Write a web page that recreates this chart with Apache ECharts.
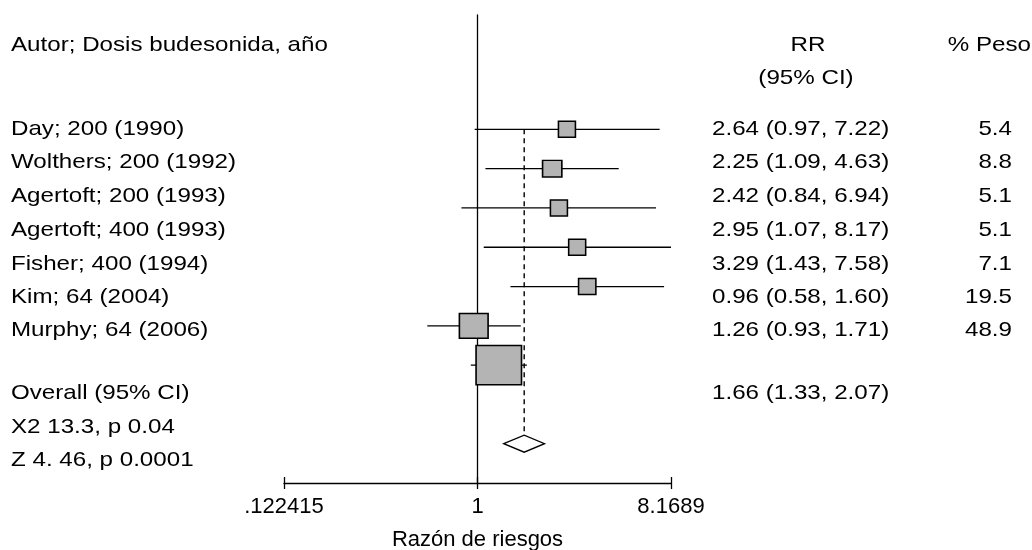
<!DOCTYPE html>
<html>
<head>
<meta charset="utf-8">
<script src="https://cdn.jsdelivr.net/npm/echarts@6/dist/echarts.min.js"></script>
<style>
html,body{margin:0;padding:0;background:#fff;}
#chart{width:1032px;height:550px;}
</style>
</head>
<body>
<div id="chart"></div>
<script>
// ---------------- data ----------------
const studies = ['Day; 200 (1990)', 'Wolthers; 200 (1992)', 'Agertoft; 200 (1993)', 'Agertoft; 400 (1993)', 'Fisher; 400 (1994)', 'Kim; 64 (2004)', 'Murphy; 64 (2006)'];
const rr = [2.64, 2.25, 2.42, 2.95, 3.29, 0.96, 1.26];
const ciLow = [0.97, 1.09, 0.84, 1.07, 1.43, 0.58, 0.93];
const ciHigh = [7.22, 4.63, 6.94, 8.17, 7.58, 1.60, 1.71];
const weights = [5.4, 8.8, 5.1, 5.1, 7.1, 19.5, 48.9];
const overallLabel = 'Overall (95% CI)';
const overallRR = 1.66;
const overallLow = 1.33;
const overallHigh = 2.07;
const statsLines = ['X2 13.3, p 0.04', 'Z 4. 46, p 0.0001'];
const tickValues = [0.122415, 1, 8.1689];
const tickLabels = ['.122415', '1', '8.1689'];
const axisTitle = 'Razón de riesgos';
const headerStudy = 'Autor; Dosis budesonida, año';
const headerRR = ['RR', '(95% CI)'];
const headerWeight = '% Peso';

// ---------------- layout ----------------
const FONT = '"Liberation Sans", Arial, sans-serif';
const FS = 21;
const SX = 1.15;
const AXFS = 22;
const OVERALL_ROW = 8;
const L = Math.log(tickValues[2]);
const rowTextY = [129, 162, 196, 230, 264, 297, 330.5];
const overallTextY = 393;
const statsTextY = [427, 460];

function txt(text, x, y, align) {
  return {
    type: 'text', x: x, y: y, scaleX: SX, z: 10, silent: true,
    style: {
      text: text, font: FS + 'px ' + FONT, fill: '#000',
      align: align, verticalAlign: 'middle',
      textAlign: align, textVerticalAlign: 'middle'
    }
  };
}
const graphics = [];
graphics.push(txt(headerStudy, 11, 45, 'left'));
graphics.push(txt(headerRR[0], 808, 45, 'center'));
graphics.push(txt(headerRR[1], 806, 78, 'center'));
graphics.push(txt(headerWeight, 1031, 45, 'right'));
studies.forEach(function (s, i) {
  graphics.push(txt(s, 11, rowTextY[i], 'left'));
  graphics.push(txt(rr[i].toFixed(2) + ' (' + ciLow[i].toFixed(2) + ', ' + ciHigh[i].toFixed(2) + ')', 712, rowTextY[i], 'left'));
  graphics.push(txt(weights[i].toFixed(1), 1012, rowTextY[i], 'right'));
});
graphics.push(txt(overallLabel, 11, overallTextY, 'left'));
graphics.push(txt(overallRR.toFixed(2) + ' (' + overallLow.toFixed(2) + ', ' + overallHigh.toFixed(2) + ')', 712, overallTextY, 'left'));
statsLines.forEach(function (s, i) { graphics.push(txt(s, 11, statsTextY[i], 'left')); });

const ciData = studies.map(function (s, i) { return [Math.log(ciLow[i]), Math.log(ciHigh[i]), i]; });
const boxData = studies.map(function (s, i) { return [Math.log(rr[i]), i, weights[i]]; });

const chart = echarts.init(document.getElementById('chart'), null, { renderer: 'canvas' });
chart.setOption({
  animation: false,
  backgroundColor: '#fff',
  grid: { left: 284, width: 387, top: 15, height: 468, containLabel: false, outerBoundsMode: 'none' },
  xAxis: [{
    type: 'value', min: -L, max: L, interval: L, position: 'bottom',
    axisLine: { show: true, onZero: false, lineStyle: { color: '#000', width: 1.3 } },
    axisTick: { show: true, length: 6, lineStyle: { color: '#000', width: 1.3 } },
    axisLabel: {
      show: true, margin: 13, color: '#000', fontSize: AXFS, fontFamily: FONT,
      formatter: function (v) {
        const idx = tickValues.findIndex(function (t) { return Math.abs(Math.log(t) - v) < 1e-3; });
        return idx >= 0 ? tickLabels[idx] : '';
      }
    },
    splitLine: { show: false },
    name: axisTitle, nameLocation: 'middle', nameGap: 46,
    nameTextStyle: { color: '#000', fontSize: AXFS, fontFamily: FONT }
  }, {
    type: 'value', min: -L, max: L, interval: L, position: 'bottom',
    axisLine: { show: false, onZero: false },
    axisTick: { show: true, inside: true, length: 6, lineStyle: { color: '#000', width: 1.3 } },
    axisLabel: { show: false }, splitLine: { show: false }
  }],
  yAxis: {
    type: 'value', inverse: true, min: -2.91, max: 9,
    axisLine: { show: true, onZero: true, onZeroAxisIndex: 0, lineStyle: { color: '#000', width: 1.3 } },
    axisTick: { show: false }, axisLabel: { show: false }, splitLine: { show: false }
  },
  graphic: graphics,
  series: [
    {
      type: 'custom', name: 'dashed', z: 2, silent: true,
      data: [[Math.log(overallRR), 0, OVERALL_ROW]],
      encode: { x: 0, y: [1, 2] },
      renderItem: function (params, api) {
        const p1 = api.coord([api.value(0), api.value(1)]);
        const p2 = api.coord([api.value(0), api.value(2)]);
        return { type: 'line', shape: { x1: p1[0], y1: p1[1], x2: p2[0], y2: p2[1] - 8.5 },
          style: { stroke: '#000', lineWidth: 1.4, lineDash: [5, 4] } };
      }
    },
    {
      type: 'custom', name: 'ci', z: 2, silent: true,
      data: ciData,
      encode: { x: [0, 1], y: 2 },
      renderItem: function (params, api) {
        const p1 = api.coord([api.value(0), api.value(2)]);
        const p2 = api.coord([api.value(1), api.value(2)]);
        return { type: 'line', shape: { x1: p1[0], y1: p1[1], x2: p2[0], y2: p2[1] },
          style: { stroke: '#000', lineWidth: 1.3 } };
      }
    },
    {
      type: 'scatter', name: 'RR', z: 3, silent: true,
      symbol: 'rect',
      data: boxData,
      symbolSize: function (val) {
        return [Math.max(17, 6.5 * Math.sqrt(val[2])), Math.max(16, 5.6 * Math.sqrt(val[2]))];
      },
      itemStyle: { color: '#b4b4b4', borderColor: '#000', borderWidth: 1.5, opacity: 1 }
    },
    {
      type: 'custom', name: 'overall', z: 3, silent: true,
      data: [[Math.log(overallRR), Math.log(overallLow), Math.log(overallHigh), OVERALL_ROW]],
      encode: { x: [0, 1, 2], y: 3 },
      renderItem: function (params, api) {
        const c = api.coord([api.value(0), api.value(3)]);
        const lo = api.coord([api.value(1), api.value(3)]);
        const hi = api.coord([api.value(2), api.value(3)]);
        const h = 8.5;
        return { type: 'polygon', shape: { points: [[lo[0], c[1]], [c[0], c[1] - h], [hi[0], c[1]], [c[0], c[1] + h]] },
          style: { fill: '#fff', stroke: '#000', lineWidth: 1.3 } };
      }
    }
  ]
});
</script>
</body>
</html>
